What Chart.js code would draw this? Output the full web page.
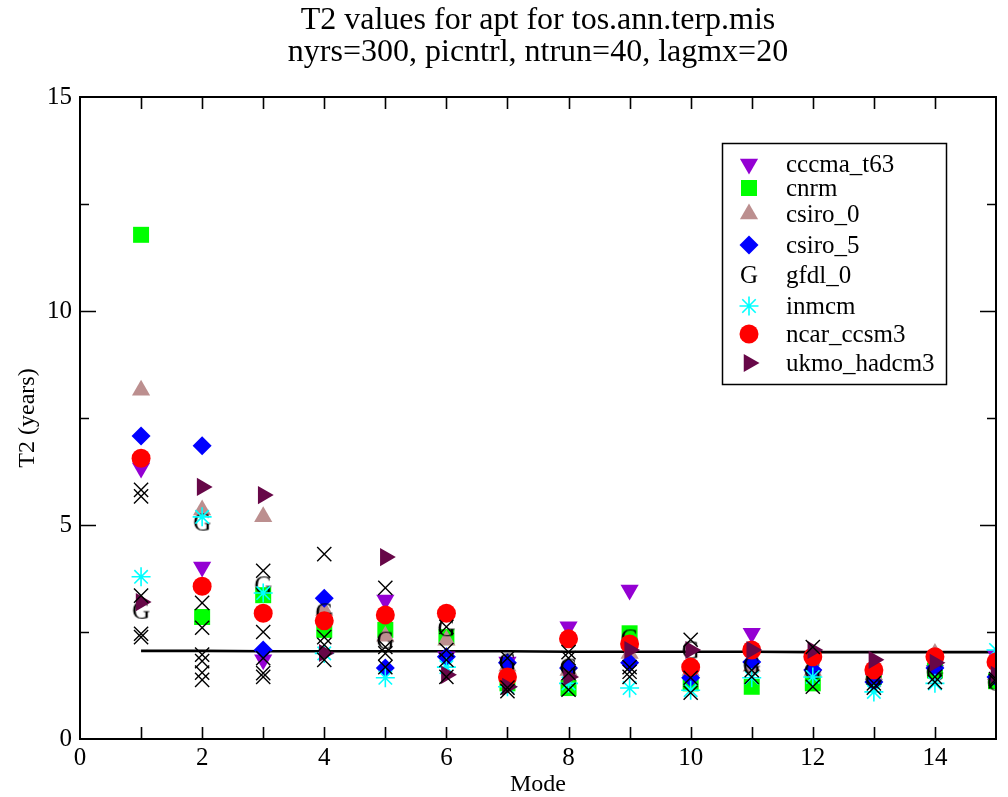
<!DOCTYPE html>
<html>
<head>
<meta charset="utf-8">
<title>T2 values for apt for tos.ann.terp.mis</title>
<script src="https://cdn.jsdelivr.net/npm/chart.js@4.4.1/dist/chart.umd.min.js"></script>
<style>
  html, body { margin: 0; padding: 0; background: #ffffff; }
  #wrap { width: 1008px; height: 797px; }
</style>
</head>
<body>
<div id="wrap"><canvas id="chart" width="1008" height="797"></canvas></div>
<script>
// ---- data -------------------------------------------------------------
const modes = [1, 2, 3, 4, 5, 6, 7, 8, 9, 10, 11, 12, 13, 14, 15];

const seriesNames = ['cccma_t63', 'cnrm', 'csiro_0', 'csiro_5', 'gfdl_0', 'inmcm', 'ncar_ccsm3', 'ukmo_hadcm3'];

const cccmaT63   = [6.33, 4.02, 1.85, 2.60, 3.25, 1.92, 1.80, 2.62, 3.48, 1.50, 2.47, 1.50, 1.40, 1.60, 1.95];
const cnrm       = [11.78, 2.85, 3.36, 2.55, 2.55, 2.38, 1.30, 1.19, 2.47, 1.30, 1.22, 1.30, 1.45, 1.60, 1.35];
const csiro0     = [8.15, 5.35, 5.19, 3.00, 2.40, 2.31, 1.70, 1.60, 2.00, 1.60, 1.70, 1.60, 1.50, 2.00, 1.50];
const csiro5     = [7.08, 6.85, 2.08, 3.29, 1.66, 1.92, 1.78, 1.66, 1.78, 1.43, 1.80, 1.61, 1.33, 1.66, 1.45];
const gfdl0      = [3.01, 5.07, 3.60, 2.97, 2.31, 2.60, 1.80, 1.68, 2.36, 2.08, 1.73, 1.60, 1.40, 1.57, 1.33];
const inmcm      = [3.79, 5.19, 3.41, 2.00, 1.43, 1.68, 1.22, 1.30, 1.19, 1.14, 1.43, 1.45, 1.10, 1.30, 2.08];
const ncarCcsm3  = [6.56, 3.57, 2.94, 2.76, 2.90, 2.94, 1.45, 2.34, 2.22, 1.68, 2.08, 1.92, 1.61, 1.92, 1.80];
const ukmoHadcm3 = [3.20, 5.89, 5.70, 2.01, 4.25, 1.50, 1.22, 1.45, 2.08, 2.08, 2.08, 2.08, 1.85, 1.78, 1.50];

const seriesValues = [cccmaT63, cnrm, csiro0, csiro5, gfdl0, inmcm, ncarCcsm3, ukmoHadcm3];

// control-run samples (crosses), one entry per cross
const crossModes  = [1, 1, 1, 1, 1,
                     2, 2, 2, 2, 2, 2,
                     3, 3, 3, 3, 3,
                     4, 4, 4, 4,
                     5, 5, 5, 5,
                     6, 6, 6, 6,
                     7, 7, 7,
                     8, 8, 8, 8,
                     9, 9, 9,
                     10, 10, 10,
                     11, 11,
                     12, 12,
                     13, 13,
                     14, 14,
                     15, 15];
const crossValues = [5.82, 5.67, 3.35, 2.46, 2.38,
                     3.18, 2.60, 1.97, 1.82, 1.55, 1.38,
                     3.93, 2.50, 1.89, 1.54, 1.45,
                     4.32, 2.38, 2.20, 1.85,
                     3.53, 2.15, 2.00, 1.68,
                     2.62, 2.08, 1.85, 1.45,
                     1.89, 1.20, 1.12,
                     2.03, 1.89, 1.54, 1.15,
                     1.68, 1.57, 1.45,
                     2.32, 1.43, 1.08,
                     1.61, 1.45,
                     2.15, 1.22,
                     1.30, 1.20,
                     1.45, 1.33,
                     1.40, 1.35];

// significance level across modes (solid black line)
const levelValues = [2.06, 2.06, 2.05, 2.05, 2.05, 2.05, 2.05, 2.04, 2.04, 2.04, 2.04, 2.03, 2.03, 2.03, 2.03];

const titleLines = ['T2 values for apt for tos.ann.terp.mis', 'nyrs=300, picntrl, ntrun=40, lagmx=20'];
const xTickValues = [0, 2, 4, 6, 8, 10, 12, 14];
const yTickValues = [0, 5, 10, 15];

// ---- styling ------------------------------------------------------------
const SERIF = "'Liberation Serif', 'Times New Roman', 'DejaVu Serif', serif";

function glyphMarker(ch, size, color) {
  const c = document.createElement('canvas');
  c.width = Math.ceil(size * 0.9);
  c.height = Math.ceil(size * 1.0);
  const g = c.getContext('2d');
  g.font = size + 'px ' + SERIF;
  g.fillStyle = color;
  g.textAlign = 'center';
  g.textBaseline = 'alphabetic';
  g.fillText(ch, c.width / 2, c.height * 0.83);
  return c;
}
const gMarker = glyphMarker('G', 25, '#000000');

const seriesStyles = [
  { color: '#9400d3', pointStyle: 'triangle', rotation: 180, radius: 10.5, borderWidth: 0 },
  { color: '#00ff00', pointStyle: 'rect',     rotation: 0,   radius: 11.3, borderWidth: 0 },
  { color: '#bc8f8f', pointStyle: 'triangle', rotation: 0,   radius: 10.5, borderWidth: 0 },
  { color: '#0000ff', pointStyle: 'rectRot',  rotation: 0,   radius: 9.5,  borderWidth: 0 },
  { color: '#000000', pointStyle: gMarker,    rotation: 0,   radius: 10,   borderWidth: 0, glyph: 'G' },
  { color: '#00ffff', pointStyle: 'star',     rotation: 0,   radius: 9.5,  borderWidth: 1.6 },
  { color: '#ff0000', pointStyle: 'circle',   rotation: 0,   radius: 9.5,  borderWidth: 0 },
  { color: '#670748', pointStyle: 'triangle', rotation: 90,  radius: 10.5, borderWidth: 0 }
];

// ---- datasets -------------------------------------------------------------
const datasets = [];

datasets.push({
  label: 'control',
  data: crossModes.map((m, i) => ({ x: m, y: crossValues[i] })),
  pointStyle: 'crossRot',
  pointRadius: 10,
  pointHoverRadius: 10,
  borderColor: '#000000',
  backgroundColor: '#000000',
  pointBorderWidth: 1.4,
  showLine: false,
  order: 0
});

seriesNames.forEach((name, i) => {
  const st = seriesStyles[i];
  datasets.push({
    label: name,
    data: modes.map((m, k) => ({ x: m, y: seriesValues[i][k] })),
    pointStyle: st.pointStyle,
    rotation: st.rotation,
    pointRadius: st.radius,
    pointHoverRadius: st.radius,
    backgroundColor: st.color,
    borderColor: st.color,
    pointBorderWidth: st.borderWidth,
    showLine: false,
    order: seriesNames.length - i
  });
});

datasets.push({
  label: 'level',
  data: modes.map((m, k) => ({ x: m, y: levelValues[k] })),
  showLine: true,
  borderColor: '#000000',
  borderWidth: 2.6,
  pointRadius: 0,
  pointHoverRadius: 0,
  fill: false,
  order: 20
});

// ---- plugins --------------------------------------------------------------
const titlePlugin = {
  id: 'plotTitle',
  afterDraw(chart) {
    const { ctx, chartArea } = chart;
    const cx = (chartArea.left + chartArea.right) / 2;
    ctx.save();
    ctx.fillStyle = '#000000';
    ctx.font = '32px ' + SERIF;
    ctx.textAlign = 'center';
    ctx.textBaseline = 'middle';
    ctx.fillText(titleLines[0], cx, 21);
    ctx.fillText(titleLines[1], cx, 53);
    ctx.restore();
  }
};

const framePlugin = {
  id: 'frameTicks',
  afterDatasetsDraw(chart) {
    const { ctx, chartArea: a, scales } = chart;
    const xs = scales.x, ys = scales.y;
    ctx.save();
    ctx.strokeStyle = '#000000';
    ctx.lineWidth = 2;
    ctx.strokeRect(a.left, a.top, a.right - a.left, a.bottom - a.top);
    ctx.lineWidth = 1.6;
    ctx.beginPath();
    // x ticks, every mode, on bottom and top edges
    for (let v = 1; v < 15; v++) {
      const px = Math.round(xs.getPixelForValue(v)) + 0.5;
      const len = 12;
      ctx.moveTo(px, a.bottom); ctx.lineTo(px, a.bottom - len);
      ctx.moveTo(px, a.top);    ctx.lineTo(px, a.top + len);
    }
    // y ticks: majors every 5, minors every 2.5, on left and right edges
    for (let v = 2.5; v < 15; v += 2.5) {
      const py = Math.round(ys.getPixelForValue(v)) + 0.5;
      const len = (v % 5 === 0) ? 16 : 9;
      ctx.moveTo(a.left, py);  ctx.lineTo(a.left + len, py);
      ctx.moveTo(a.right, py); ctx.lineTo(a.right - len, py);
    }
    ctx.stroke();
    ctx.restore();
  }
};

const legendPlugin = {
  id: 'boxLegend',
  afterDraw(chart) {
    const { ctx } = chart;
    const box = { x: 722, y: 143, w: 224, h: 241 };
    const rows = [164, 188, 214, 245, 275, 306, 334, 363];
    const markerX = 749, textX = 786;
    ctx.save();
    ctx.fillStyle = '#ffffff';
    ctx.fillRect(box.x, box.y, box.w, box.h);
    ctx.strokeStyle = '#000000';
    ctx.lineWidth = 1.5;
    ctx.strokeRect(box.x + 0.5, box.y + 0.5, box.w, box.h);
    const drawPoint = Chart.helpers && Chart.helpers.drawPoint;
    seriesNames.forEach((name, i) => {
      const st = seriesStyles[i];
      const y = rows[i];
      ctx.fillStyle = st.color;
      ctx.strokeStyle = st.color;
      ctx.lineWidth = st.borderWidth;
      if (st.glyph) {
        ctx.font = '25px ' + SERIF;
        ctx.textAlign = 'center';
        ctx.textBaseline = 'middle';
        ctx.fillText(st.glyph, markerX, y + 1);
      } else if (drawPoint) {
        drawPoint(ctx, { pointStyle: st.pointStyle, rotation: st.rotation, radius: st.radius, borderWidth: st.borderWidth }, markerX, y);
      }
      ctx.fillStyle = '#000000';
      ctx.font = '25px ' + SERIF;
      ctx.textAlign = 'left';
      ctx.textBaseline = 'middle';
      ctx.fillText(name, textX, y + 1);
    });
    ctx.restore();
  }
};

// ---- chart ------------------------------------------------------------------
new Chart(document.getElementById('chart'), {
  type: 'scatter',
  data: { datasets },
  options: {
    responsive: false,
    animation: false,
    devicePixelRatio: 1,
    layout: { padding: { top: 97, right: 12, left: 0, bottom: 0 } },
    plugins: {
      legend: { display: false },
      tooltip: { enabled: false },
      title: { display: false }
    },
    scales: {
      x: {
        type: 'linear',
        position: 'bottom',
        min: 0,
        max: 15,
        afterBuildTicks: s => { s.ticks = xTickValues.map(v => ({ value: v })); },
        afterFit: s => { s.height = 58; },
        ticks: {
          font: { family: SERIF, size: 25 },
          color: '#000000',
          padding: 4,
          maxRotation: 0,
          autoSkip: false
        },
        grid: { display: false, drawTicks: false },
        border: { display: true, color: '#000000', width: 2 },
        title: {
          display: true,
          text: 'Mode',
          color: '#000000',
          font: { family: SERIF, size: 24, lineHeight: 1 },
          padding: 0
        }
      },
      y: {
        type: 'linear',
        position: 'left',
        min: 0,
        max: 15,
        afterBuildTicks: s => { s.ticks = yTickValues.map(v => ({ value: v })); },
        afterFit: s => { s.width = 80; },
        ticks: {
          font: { family: SERIF, size: 25 },
          color: '#000000',
          padding: 8
        },
        grid: { display: false, drawTicks: false },
        border: { display: true, color: '#000000', width: 2 },
        title: {
          display: true,
          text: 'T2 (years)',
          color: '#000000',
          font: { family: SERIF, size: 24, lineHeight: 1.2 },
          padding: { top: 13, bottom: 0 }
        }
      }
    }
  },
  plugins: [framePlugin, legendPlugin, titlePlugin]
});
</script>
</body>
</html>
